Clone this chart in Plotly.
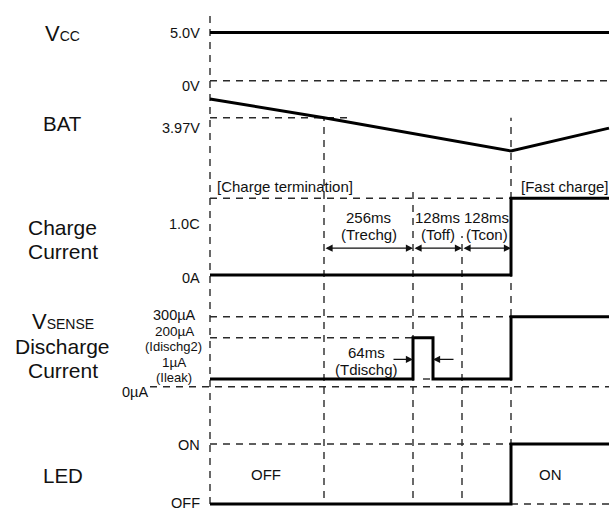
import plotly.graph_objects as go

# ------------------------------------------------------------------
# DATA (schematic timing diagram)
# ------------------------------------------------------------------
# event times on the diagram's (not-to-scale) time axis
t_start = 0
t_bat_thr = 114      # BAT has fallen to 3.97 V
t_rechg_end = 203    # end of Trechg (256 ms)
t_dis_end = 223      # end of Tdischg pulse (64 ms)
t_off_end = 252      # end of Toff (128 ms)
t_con_end = 301      # end of Tcon (128 ms) -> fast charge starts
t_end = 399

# VCC (V)
vcc_t = [t_start, t_end]
vcc_v = [5.0, 5.0]

# BAT (V)
bat_t = [t_start, t_bat_thr, t_con_end, t_end]
bat_v = [4.06, 3.97, 3.81, 3.92]

# Charge current (fraction of 1.0C)
chg_t = [t_start, t_con_end, t_con_end, t_end]
chg_v = [0.0, 0.0, 1.0, 1.0]

# VSENSE discharge current (uA)
vs_t = [t_start, t_rechg_end, t_rechg_end, t_dis_end, t_dis_end, t_con_end, t_con_end, t_end]
vs_ua = [1, 1, 200, 200, 1, 1, 300, 300]
# schematic (non-linear) drawing level of each current value
vs_level_ua = [0, 1, 200, 300]
vs_level_pos = [0.0, 0.11, 0.70, 1.0]

# LED state (0 = OFF, 1 = ON)
led_t = [t_start, t_con_end, t_con_end, t_end]
led_v = [0, 0, 1, 1]

# time-interval annotations
span_start = [t_bat_thr, t_rechg_end, t_off_end]
span_end = [t_rechg_end, t_off_end, t_con_end]
span_time = ["256ms", "128ms", "128ms"]
span_name = ["(Trechg)", "(Toff)", "(Tcon)"]

# tick labels
vcc_ticks = ["5.0V", "0V"]
vcc_tick_vals = [5.0, 0.0]
bat_tick = "3.97V"
chg_ticks = ["1.0C", "0A"]
chg_tick_vals = [1.0, 0.0]
led_ticks = ["ON", "OFF"]
led_tick_vals = [1, 0]

# ------------------------------------------------------------------
# GEOMETRY / STYLE
# ------------------------------------------------------------------
W, H = 616, 511
X0_PX = 210  # where t_start sits
FONT = "Liberation Sans, Arial, Helvetica, sans-serif"
INK = "#111111"
DASH = "7px,6px"
DCOL = "#2a2a2a"
DW = 1.4
SW = 3

row_geom = {
    "vcc": ((5.0, 32.5), (0.0, 80.7)),
    "bat": ((3.97, 117.7), (4.06, 99.0)),
    "chg": ((1.0, 198.3), (0.0, 275.0)),
    "vs": ((1.0, 316.7), (0.0, 386.7)),
    "led": ((1.0, 444.0), (0.0, 504.0)),
}
axis_id = {"vcc": "y", "bat": "y2", "chg": "y3", "vs": "y4", "led": "y5"}


def axis_range(key):
    (va, pa), (vb, pb) = row_geom[key]
    s = (vb - va) / (pb - pa)
    return [va + (H - pa) * s, va + (0 - pa) * s]


def paper_y(key, v):
    lo, hi = axis_range(key)
    return (v - lo) / (hi - lo)


vs_map = dict(zip(vs_level_ua, vs_level_pos))
vs_v = [vs_map[u] for u in vs_ua]

fig = go.Figure()

# ---------------- dashed reference levels ----------------
ref_lines = [
    ("vcc", 0.0, t_start, t_end),
    ("bat", 3.97, t_start, 140),
    ("chg", 1.0, t_start, t_con_end),
    ("vs", vs_map[300], t_start, t_con_end),
    ("vs", vs_map[200], t_start, t_rechg_end),
    ("vs", vs_map[0], -60, t_end),
    ("vs", vs_map[1], t_rechg_end + 10, t_dis_end),
    ("led", 1, t_start, t_con_end),
    ("led", 0, t_con_end, t_end),
]
for key, lvl, ta, tb in ref_lines:
    fig.add_trace(go.Scatter(
        x=[ta, tb], y=[lvl, lvl], yaxis=axis_id[key], mode="lines",
        line=dict(color=DCOL, width=DW, dash=DASH), hoverinfo="skip",
        showlegend=False))

# ---------------- signals ----------------
for key, xs, ys in [("vcc", vcc_t, vcc_v), ("bat", bat_t, bat_v),
                    ("chg", chg_t, chg_v), ("vs", vs_t, vs_v),
                    ("led", led_t, led_v)]:
    fig.add_trace(go.Scatter(
        x=xs, y=ys, yaxis=axis_id[key], mode="lines",
        line=dict(color="black", width=SW), hoverinfo="skip",
        showlegend=False))

# ---------------- vertical guide lines ----------------
bottom_inner = paper_y("led", 0.1)
guides = [
    (t_start, 1 - 12 / H, paper_y("led", 0.0)),
    (t_bat_thr, paper_y("bat", 3.97), bottom_inner),
    (t_rechg_end, paper_y("chg", 1.11), bottom_inner),
    (t_off_end, paper_y("chg", 0.51), bottom_inner),
    (t_con_end, paper_y("bat", 3.97), bottom_inner),
]
shapes = []
for t, ytop, ybot in guides:
    shapes.append(dict(type="line", xref="x", yref="paper", x0=t, x1=t,
                       y0=ybot, y1=ytop, layer="below",
                       line=dict(color=DCOL, width=DW, dash=DASH)))

ann = []


def txt(text, x, y, xref="x", yref="paper", size=14.5, xanchor="center",
        xshift=0, yshift=0):
    ann.append(dict(text=text, x=x, y=y, xref=xref, yref=yref,
                    showarrow=False, xanchor=xanchor, yanchor="middle",
                    xshift=xshift, yshift=yshift,
                    font=dict(family=FONT, size=size, color=INK)))


# tick labels
for s, v, dy in zip(vcc_ticks, vcc_tick_vals, [0, -5]):
    txt(s, t_start, v, yref="y", xanchor="right", xshift=-8, yshift=dy)
txt(bat_tick, t_start, 3.97, yref="y2", xanchor="right", xshift=-8, yshift=-10.6)
for s, v, dy in zip(chg_ticks, chg_tick_vals, [-26, -3]):
    txt(s, t_start, v, yref="y3", xanchor="right", xshift=-8, yshift=dy)
txt("300µA", t_start, vs_map[300], yref="y4", xshift=-36, yshift=1.7)
txt("200µA", t_start, vs_map[200], yref="y4", xshift=-36, yshift=6.5, size=13.5)
txt("(Idischg2)", t_start, vs_map[200], yref="y4", xshift=-37, yshift=-8.5, size=13)
txt("1µA", t_start, vs_map[1], yref="y4", xshift=-36, yshift=17, size=13.5)
txt("(Ileak)", t_start, vs_map[1], yref="y4", xshift=-36, yshift=2, size=13)
txt("0µA", t_start, vs_map[0], yref="y4", xanchor="right", xshift=-60, yshift=-5)
for s, v, dy in zip(led_ticks, led_tick_vals, [-1, 1.3]):
    txt(s, t_start, v, yref="y5", xanchor="right", xshift=-8, yshift=dy)

# row names
NX = 62.5 / W
big = 21
txt("V<span style='font-size:14px'>CC</span>", NX, 1 - 33.3 / H, xref="paper", size=22)
txt("BAT", NX, 1 - 123.3 / H, xref="paper", size=20.5)
txt("Charge", NX, 1 - 227 / H, xref="paper", size=big)
txt("Current", NX, 1 - 251 / H, xref="paper", size=big)
txt("V<span style='font-size:14px'>SENSE</span>", NX, 1 - 321 / H, xref="paper", size=22)
txt("Discharge", NX, 1 - 346 / H, xref="paper", size=big)
txt("Current", NX, 1 - 370.5 / H, xref="paper", size=big)
txt("LED", NX, 1 - 475 / H, xref="paper", size=20.5)

# phase labels
txt("[Charge termination]", t_start, 1.0, yref="y3", xanchor="left", xshift=5, yshift=11.6, size=15)
txt("[Fast charge]", t_con_end, 1.0, yref="y3", xanchor="left", xshift=8, yshift=11.6, size=15)
txt("OFF", 55.5, 0.5, yref="y5", size=15)
txt("ON", 340.5, 0.5, yref="y5", size=15)

# interval arrows and labels (charge-current row)
arrow_lvl = 0.35
for a, b, s1, s2 in zip(span_start, span_end, span_time, span_name):
    ann.append(dict(x=b, y=arrow_lvl, ax=a, ay=arrow_lvl, xref="x", yref="y3",
                    axref="x", ayref="y3", text="", showarrow=True,
                    arrowhead=2, startarrowhead=2, arrowside="end+start",
                    arrowsize=1.1, startarrowsize=1.1, arrowwidth=1.3,
                    arrowcolor=INK, standoff=0, startstandoff=0))
    mid = (a + b) / 2
    txt(s1, mid, arrow_lvl, yref="y3", yshift=30.6, size=15)
    txt(s2, mid, arrow_lvl, yref="y3", yshift=14, size=15)

# Tdischg arrows
dis_lvl = 0.39
for tail, head in [(182, t_rechg_end), (245, t_dis_end)]:
    ann.append(dict(x=head, y=dis_lvl, ax=tail, ay=dis_lvl, xref="x", yref="y4",
                    axref="x", ayref="y4", text="", showarrow=True,
                    arrowhead=2, arrowsize=1.1, arrowwidth=1.3,
                    arrowcolor=INK, standoff=0))
txt("64ms", 156.7, dis_lvl, yref="y4", yshift=7, size=15)
txt("(Tdischg)", 156.7, dis_lvl, yref="y4", yshift=-10, size=15)

layout_axes = {}
for i, key in enumerate(["vcc", "bat", "chg", "vs", "led"]):
    name = "yaxis" if i == 0 else "yaxis%d" % (i + 1)
    d = dict(domain=[0, 1], range=axis_range(key), visible=False,
             fixedrange=True, anchor="x")
    if i > 0:
        d["overlaying"] = "y"
    layout_axes[name] = d

fig.update_layout(
    width=W, height=H,
    margin=dict(l=0, r=0, t=0, b=0),
    paper_bgcolor="white", plot_bgcolor="white",
    xaxis=dict(domain=[0, 1], range=[-X0_PX, W - X0_PX], visible=False,
               fixedrange=True),
    shapes=shapes, annotations=ann, showlegend=False,
    **layout_axes,
)

fig.write_html("out.html",
               config={"displayModeBar": False, "staticPlot": True},
               post_script="document.body.style.margin='0px';"
                           "document.body.style.overflow='hidden';")
